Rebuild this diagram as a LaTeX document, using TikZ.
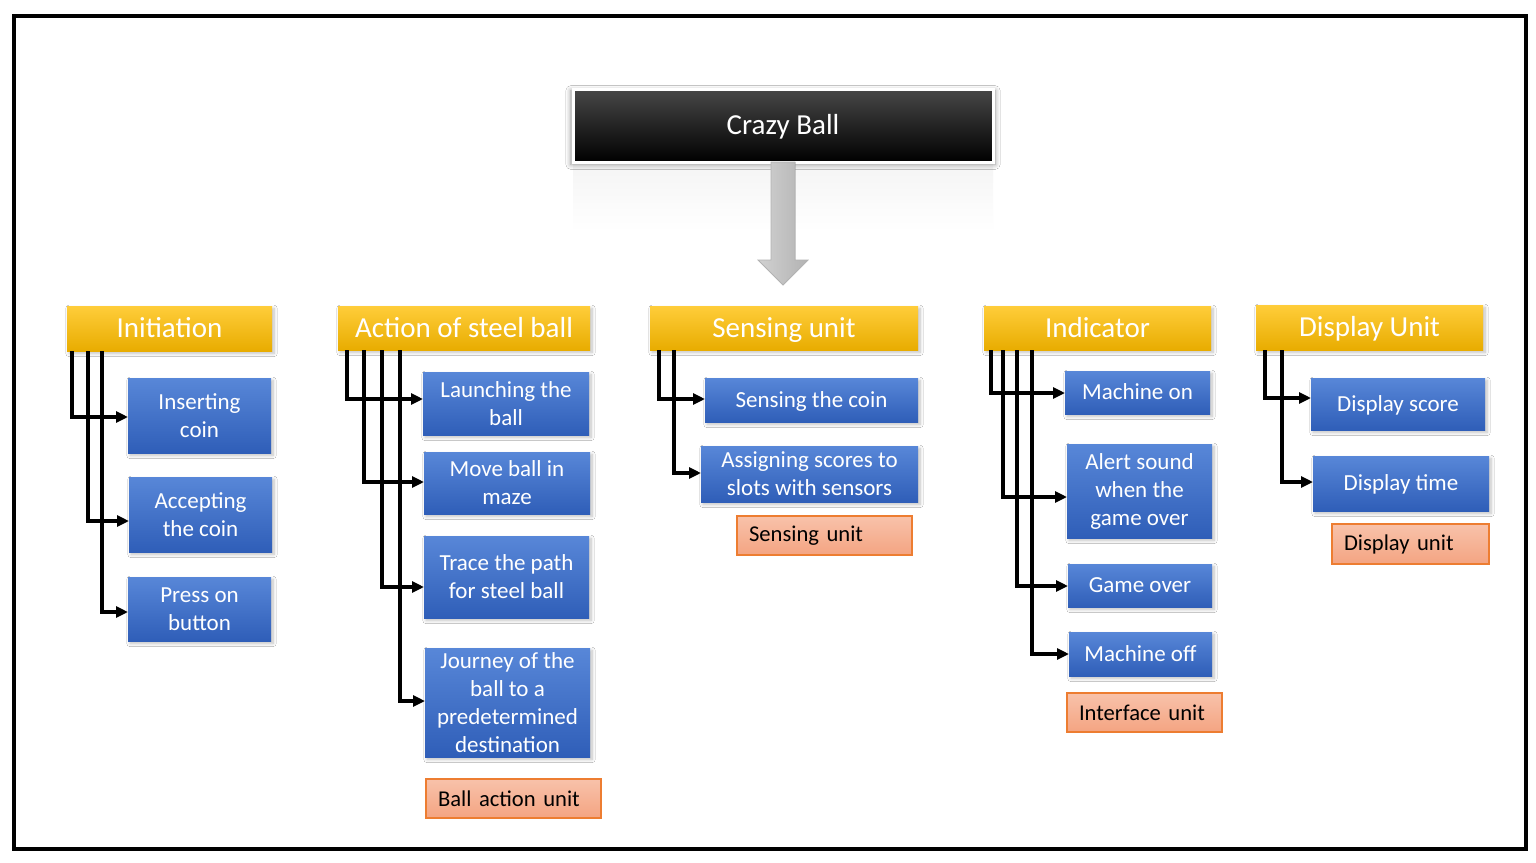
\documentclass[tikz,border=0pt]{standalone}
\usepackage{fontspec}
\setmainfont{Carlito}
\usetikzlibrary{arrows.meta,calc,shadows.blur}

\definecolor{goldA}{HTML}{FFCD3A}
\definecolor{goldB}{HTML}{FFC000}
\definecolor{goldC}{HTML}{E8AC00}
\definecolor{blueA}{HTML}{5887D8}
\definecolor{blueB}{HTML}{4172CE}
\definecolor{blueC}{HTML}{2F5EB8}
\definecolor{tagA}{HTML}{F8C2AA}
\definecolor{tagB}{HTML}{F4A482}
\definecolor{tagLine}{HTML}{ED7D31}

\tikzset{
  softshadow/.style={blur shadow={shadow xshift=1pt, shadow yshift=-1.2pt,
      shadow blur radius=1.6pt, shadow blur steps=8, shadow opacity=25}},
  oneline/.style={text height=9.9pt, text depth=2.5pt},
  bigtext/.style={font=\fontsize{14.5}{17}\selectfont, text height=11.6pt, text depth=2.3pt},
  hdr/.style={inner sep=0pt, outer sep=0pt, top color=goldA, middle color=goldB,
      bottom color=goldC, text=white, bigtext, softshadow},
  task/.style={inner sep=0pt, outer sep=0pt, top color=blueA, middle color=blueB,
      bottom color=blueC, text=white, align=center,
      font=\fontsize{11.5}{14}\selectfont, softshadow},
  tag/.style={outer sep=0pt, inner ysep=0pt, inner xsep=6pt, draw=tagLine, line width=0.6pt,
      top color=tagA, bottom color=tagB, text=black, align=left,
      font=\fontsize{11.3}{14}\selectfont},
  conn/.style={line width=2pt, line join=miter, -{Triangle[length=6pt,width=5.5pt]}},
}

% box given by its corners (x1,y1) (x2,y2)
\newcommand\boxat[7]{\node[#1, minimum width={(#5-#3)*0.5pt}, minimum height={(#6-#4)*0.5pt}]
  (#2) at ({(#3+#5)/2},{(#4+#6)/2}) {#7};}
\newcommand\tagat[6]{\pgfmathsetlengthmacro\tagw{(#4-#2)*0.5pt-12pt}%
  \node[tag, text width=\tagw, minimum height={(#5-#3)*0.5pt}]
  (#1) at ({(#2+#4)/2},{(#3+#5)/2}) {#6};}

\begin{document}
\begin{tikzpicture}[x=0.5pt, y=-0.5pt]
\useasboundingbox (0,0) rectangle (1536,862);
\fill[white] (0,0) rectangle (1536,862);

% outer frame
\draw[line width=2pt] (14,16) rectangle (1526,849);

% faint reflection under the title
\shade[top color=black!4, bottom color=white] (573,164) rectangle (993,232);

% title
\node[inner sep=0pt, outer sep=0pt, minimum width=210pt, minimum height=36.5pt,
      top color=black!72, middle color=black, bottom color=black,
      draw=white, line width=1.5pt, text=white, bigtext,
      blur shadow={shadow xshift=0pt, shadow yshift=-1pt, shadow blur radius=2.5pt,
        shadow blur steps=8, shadow opacity=40, shadow scale=1.01}]
  (title) at (783,125.5) {Crazy Ball};

% block arrow below the title
\filldraw[draw=black!30, line width=0.4pt, left color=black!18, right color=black!30]
  ($(title.south)+(-12,0)$) -- ++(0,98) -- ++(-13,0) -- ++(25,25) -- ++(25,-25)
  -- ++(-13,0) -- ++(0,-98) -- cycle;

% column headers
\boxat{hdr}{ini}{67}{306}{272}{351}{Initiation}
\boxat{hdr}{act}{338}{306}{590}{350}{Action of steel ball}
\boxat{hdr}{sen}{650}{306}{918}{350}{Sensing unit}
\boxat{hdr}{ind}{984}{306}{1211}{350}{Indicator}
\boxat{hdr}{dsp}{1256}{305}{1483}{350}{Display Unit}

% Initiation
\boxat{task}{ins}{128}{378}{271}{453}{Inserting\\coin}
\boxat{task}{acc}{129}{477}{272}{552}{Accepting\\the coin}
\boxat{task}{prs}{128}{577}{271}{641}{Press on\\button}

% Action of steel ball
\boxat{task}{lau}{423}{372}{589}{435}{Launching the\\ball}
\boxat{task}{mov}{424}{452}{590}{514}{Move ball in\\maze}
\boxat{task}{trc}{424}{536}{589}{618}{Trace the path\\for steel ball}
\boxat{task}{jny}{425}{648}{590}{757}{Journey of the\\ball to a\\predetermined\\destination}
\tagat{tagact}{426}{779}{601}{818}{Ball action unit}

% Sensing unit
\boxat{task,oneline}{scn}{705}{378}{918}{422}{Sensing the coin}
\boxat{task}{asg}{701}{446}{918}{502}{Assigning scores to\\slots with sensors}
\tagat{tagsen}{737}{516}{912}{555}{Sensing unit}

% Indicator
\boxat{task,oneline}{mon}{1065}{371}{1210}{414}{Machine on}
\boxat{task}{alr}{1067}{444}{1212}{538}{Alert sound\\when the\\game over}
\boxat{task,oneline}{gov}{1068}{564}{1212}{607}{Game over}
\boxat{task,oneline}{mof}{1069}{632}{1212}{676}{Machine off}
\tagat{tagind}{1067}{693}{1222}{732}{Interface unit}

% Display Unit
\boxat{task,oneline}{dsc}{1311}{378}{1485}{430}{Display score}
\boxat{task,oneline}{dtm}{1313}{456}{1489}{511}{Display time}
\tagat{tagdsp}{1332}{524}{1489}{564}{Display unit}

% connectors
\draw[conn] ($(ini.south west)+(5,0)$)  |- ($(ins.west)+(0,1.5)$);
\draw[conn] ($(ini.south west)+(21,0)$) |- ($(acc.west)+(0,6.5)$);
\draw[conn] ($(ini.south west)+(35,0)$) |- ($(prs.west)+(0,3)$);

\draw[conn] ($(act.south west)+(9,0)$)  |- ($(lau.west)+(0,-4.5)$);
\draw[conn] ($(act.south west)+(26,0)$) |- ($(mov.west)+(0,-1)$);
\draw[conn] ($(act.south west)+(44,0)$) |- ($(trc.west)+(0,10)$);
\draw[conn] ($(act.south west)+(62,0)$) |- ($(jny.west)+(0,-1.5)$);

\draw[conn] ($(sen.south west)+(9,0)$)  |- ($(scn.west)+(0,-1)$);
\draw[conn] ($(sen.south west)+(24,0)$) |- ($(asg.west)+(0,-1)$);

\draw[conn] ($(ind.south west)+(7,0)$)  |- ($(mon.west)+(0,0.5)$);
\draw[conn] ($(ind.south west)+(19,0)$) |- ($(alr.west)+(0,6)$);
\draw[conn] ($(ind.south west)+(33,0)$) |- ($(gov.west)+(0,0.5)$);
\draw[conn] ($(ind.south west)+(48,0)$) |- (mof.west);

\draw[conn] ($(dsp.south west)+(9,0)$)  |- ($(dsc.west)+(0,-6)$);
\draw[conn] ($(dsp.south west)+(26,0)$) |- ($(dtm.west)+(0,-1.5)$);
\end{tikzpicture}
\end{document}
